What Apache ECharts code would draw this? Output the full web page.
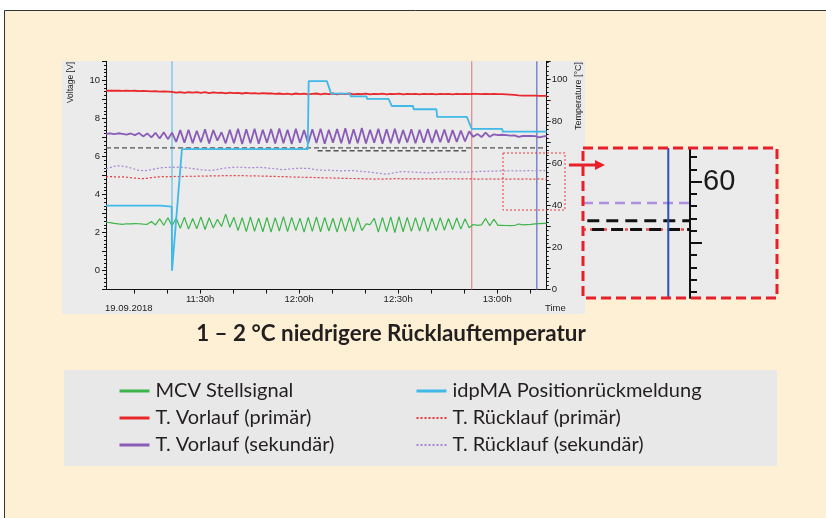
<!DOCTYPE html>
<html><head><meta charset="utf-8">
<script src="https://cdn.jsdelivr.net/npm/echarts@6.0.0/dist/echarts.min.js"></script>
<style>html,body{margin:0;padding:0;background:#fff}#c{width:826px;height:518px}</style>
</head><body><div id="c"></div>
<script>
// ---- data (minutes after 11:00h) ----
const minutes = [
  1.5, 2.75, 4, 5.25, 6.5, 7.75, 9, 10.25, 11.5, 12.75,
  14, 15.25, 16.5, 17.75, 19, 20.25, 21.5, 22.75, 24, 25.25,
  26.5, 27.75, 29, 30.25, 31.5, 32.75, 34, 35.25, 36.5, 37.75,
  39, 40.25, 41.5, 42.75, 44, 45.25, 46.5, 47.75, 49, 50.25,
  51.5, 52.75, 54, 55.25, 56.5, 57.75, 59, 60.25, 61.5, 62.75,
  64, 65.25, 66.5, 67.75, 69, 70.25, 71.5, 72.75, 74, 75.25,
  76.5, 77.75, 79, 80.25, 81.5, 82.75, 84, 85.25, 86.5, 87.75,
  89, 90.25, 91.5, 92.75, 94, 95.25, 96.5, 97.75, 99, 100.25,
  101.5, 102.75, 104, 105.25, 106.5, 107.75, 109, 110.25, 111.5, 112.75,
  114, 115.25, 116.5, 117.75, 119, 120.25, 121.5, 122.75, 124, 125.25,
  126.5, 127.75, 129, 130.25, 131.5, 132.75, 134, 135
];
// MCV Stellsignal [V]
const mcvStellsignal = [
  2.54, 2.52, 2.48, 2.45, 2.43, 2.46, 2.45, 2.47, 2.46, 2.44,
  2.43, 2.58, 2.40, 2.72, 2.38, 2.78, 2.35, 2.76, 2.22, 2.80,
  2.18, 2.74, 2.20, 2.82, 2.16, 2.78, 2.24, 2.70, 2.32, 2.97,
  2.28, 2.80, 2.10, 2.78, 2.05, 2.82, 2.06, 2.76, 2.04, 2.80,
  2.02, 2.78, 2.08, 2.84, 2.05, 2.80, 2.10, 2.76, 2.02, 2.80,
  2.06, 2.82, 2.04, 2.80, 2.08, 2.75, 2.02, 2.78, 2.06, 2.80,
  2.05, 2.78, 2.10, 2.45, 2.42, 2.75, 2.02, 2.80, 2.05, 2.82,
  2.00, 2.84, 2.04, 2.80, 2.06, 2.78, 2.08, 2.80, 2.05, 2.76,
  2.10, 2.78, 2.12, 2.74, 2.15, 2.76, 2.18, 2.72, 2.25, 2.42,
  2.38, 2.40, 2.74, 2.36, 2.70, 2.38, 2.38, 2.37, 2.36, 2.37,
  2.45, 2.40, 2.42, 2.43, 2.45, 2.47, 2.48, 2.48
];
// T. Vorlauf (primär) [°C]
const vorlaufPrimaer = [
  94.6, 94.5, 94.6, 94.5, 94.4, 94.5, 94.4, 94.5, 94.3, 94.4,
  94.3, 94.2, 94.3, 94.1, 94.2, 94.1, 94.0, 93.6, 93.9, 93.5,
  93.8, 93.6, 93.9, 93.5, 93.8, 93.4, 93.7, 93.5, 93.6, 93.3,
  93.6, 93.4, 93.5, 93.2, 93.5, 93.3, 93.4, 93.1, 93.4, 93.2,
  93.3, 93.0, 93.2, 92.9, 93.1, 92.8, 93.2, 92.9, 93.1, 92.8,
  93.0, 93.2, 92.8, 93.1, 92.9, 93.2, 92.8, 93.1, 92.9, 93.2,
  92.8, 93.0, 92.9, 93.1, 92.8, 93.0, 92.9, 93.1, 92.8, 93.0,
  92.9, 93.1, 92.8, 93.0, 92.9, 93.0, 92.8, 93.0, 92.9, 93.0,
  92.8, 93.0, 92.9, 93.0, 92.8, 93.0, 92.9, 93.0, 92.9, 93.0,
  93.0, 92.9, 93.0, 92.9, 93.0, 92.9, 92.9, 92.8, 92.7, 92.5,
  92.3, 92.2, 92.2, 92.2, 92.2, 92.1, 92.1, 92.1
];
// T. Vorlauf (sekundär) [°C]
const vorlaufSekundaer = [
  74.0, 74.2, 73.9, 74.3, 74.0, 73.6, 74.2, 73.4, 74.4, 72.8,
  74.2, 72.3, 74.5, 71.8, 74.8, 71.5, 74.6, 70.2, 75.8, 69.8,
  76.0, 69.6, 75.5, 70.0, 76.2, 69.4, 75.8, 70.8, 74.8, 69.5,
  76.0, 69.6, 76.4, 69.2, 76.2, 69.5, 76.5, 69.3, 76.0, 69.8,
  76.3, 69.4, 76.6, 69.6, 76.0, 69.2, 76.4, 69.8, 75.8, 69.5,
  76.2, 69.7, 76.5, 69.3, 76.0, 69.8, 76.3, 69.5, 76.7, 69.2,
  76.2, 69.6, 76.8, 69.4, 76.0, 69.8, 76.4, 69.3, 76.2, 69.6,
  76.5, 69.5, 75.8, 69.9, 76.2, 69.6, 76.0, 69.8, 76.3, 69.7,
  75.9, 70.0, 76.1, 69.8, 75.8, 70.2, 75.6, 70.4, 75.2, 72.6,
  74.0, 72.5, 74.6, 72.6, 73.8, 73.4, 73.6, 73.4, 73.2, 73.3,
  72.6, 73.0, 73.1, 73.0, 72.9, 72.4, 72.8, 73.0
];
// T. Rücklauf (primär) [°C]
const ruecklaufPrimaer = [
  53.6, 53.7, 53.6, 53.5, 53.6, 53.4, 53.2, 53.0, 52.8, 52.7,
  52.9, 53.2, 53.5, 53.6, 53.7, 53.6, 53.7, 53.8, 53.7, 53.8,
  53.9, 53.8, 53.9, 54.0, 53.9, 54.0, 54.1, 54.0, 54.1, 54.2,
  54.1, 54.2, 54.1, 54.2, 54.1, 54.0, 54.1, 54.0, 53.9, 53.9,
  53.8, 53.8, 53.7, 53.7, 53.6, 53.5, 53.5, 53.4, 53.4, 53.3,
  53.3, 53.2, 53.2, 53.1, 53.1, 53.0, 53.0, 52.9, 52.9, 52.8,
  52.8, 52.7, 52.7, 52.6, 52.6, 52.5, 52.6, 52.5, 52.6, 52.6,
  52.7, 52.7, 52.6, 52.7, 52.6, 52.7, 52.6, 52.6, 52.7, 52.6,
  52.6, 52.7, 52.6, 52.6, 52.7, 52.6, 52.6, 52.7, 52.6, 52.6,
  52.5, 52.6, 52.5, 52.6, 52.5, 52.5, 52.6, 52.5, 52.5, 52.6,
  52.5, 52.5, 52.6, 52.5, 52.5, 52.6, 52.5, 52.5
];
// T. Rücklauf (sekundär) [°C]
const ruecklaufSekundaer = [
  57.4, 58.0, 58.6, 58.8, 58.7, 58.3, 57.8, 57.2, 56.7, 56.5,
  56.6, 57.0, 57.4, 57.8, 58.0, 58.1, 58.2, 58.1, 58.2, 58.0,
  57.8, 57.5, 57.3, 57.0, 56.8, 56.7, 56.8, 57.1, 57.5, 57.8,
  58.0, 58.1, 58.2, 58.1, 58.0, 57.9, 58.0, 58.1, 58.0, 57.8,
  57.6, 57.4, 57.2, 57.0, 57.2, 57.4, 57.6, 57.7, 57.6, 57.6,
  57.3, 57.0, 56.8, 56.7, 56.8, 56.6, 56.5, 56.4, 56.5, 56.6,
  56.5, 56.3, 56.2, 56.0, 55.8, 55.6, 55.3, 55.0, 54.9, 55.2,
  55.6, 55.9, 56.1, 56.0, 55.9, 55.8, 55.7, 55.6, 55.5, 55.6,
  55.7, 55.8, 55.9, 56.0, 56.0, 55.9, 55.8, 55.8, 55.9, 56.0,
  56.1, 56.2, 56.2, 56.3, 56.3, 56.4, 56.4, 56.4, 56.5, 56.4,
  56.5, 56.4, 56.5, 56.5, 56.4, 56.5, 56.5, 56.5
];
// idpMA Positionrückmeldung [V]
const idpmaTime = [1.5, 17.9, 18.0, 21.4, 21.5, 24.5, 62.6, 62.9, 68.4, 69.7, 75.4, 75.6, 80.4, 80.6, 87.1, 88.1, 94.5, 94.7, 101.6, 101.8, 110.8, 112.3, 121.5, 121.7, 135];
const idpmaValue = [3.41, 3.41, 3.36, 3.36, 0.0, 6.38, 6.38, 9.96, 9.96, 9.30, 9.30, 9.16, 9.16, 9.02, 9.02, 8.65, 8.65, 8.48, 8.48, 8.08, 8.08, 7.45, 7.45, 7.30, 7.30];
// reference (dashed) lines [V]
const refATime = [1.5, 134];  const refAValue = [6.45, 6.45];
const refBTime = [65.6, 110.6]; const refBValue = [6.30, 6.30];
// cursors (minutes)
const cyanCursor = 21.5, redCursor = 112.3, blueCursor = 132;
// zoom inset [°C]
const insetPurple = 56.5, insetBlack1 = 53.6, insetBlack2 = 52.2, insetRed = 52.2;
const insetStarts = [0, 4, 8.5, 0];
const insetCursor = 79.7;
// ticks / labels
const xTickValues = [10, 20, 30, 40, 50, 60, 70, 80, 90, 100, 110, 120, 130];
const xLabelValues = [30, 60, 90, 120];
const voltLabels = [0, 2, 4, 6, 8, 10];
const tempLabels = [0, 20, 40, 60, 80, 100];
const insetMinorTicks = [42, 44, 46, 48, 52, 54, 56, 58, 62, 64];
const insetMajorTicks = [50, 60];
const insetLabels = [60];

// ---- chart ----
const zip = (ts, vs) => ts.map((t, i) => [t, vs[i]]);
const AF = "'Liberation Sans', Arial, sans-serif";
const LF = "Lato, 'Open Sans', sans-serif";
const fmtTime = v => { const m = Math.round(v); const h = 11 + Math.floor(m / 60); return h + ':' + String(m % 60).padStart(2, '0') + 'h'; };
const lbl = { fontSize: 9.5, color: '#222', fontFamily: AF };
const blk = { color: '#111', width: 1 };
const noSym = { color: 'rgba(0,0,0,0)', borderWidth: 0, opacity: 0 };

const chart = echarts.init(document.getElementById('c'), null, { renderer: 'canvas' });
const line = (name, xi, yi, data, color, width, type, z) => ({
  name, type: 'line', xAxisIndex: xi, yAxisIndex: yi, data, symbol: 'none', showSymbol: false,
  lineStyle: { color, width, type: type || 'solid' }, itemStyle: { color }, z: z || 2, silent: true
});
const legendText = { fontSize: 20, color: '#231f20', fontFamily: LF, padding: [0, 0, 0, 1] };

chart.setOption({
  backgroundColor: '#ffffff',
  animation: false,
  grid: [
    { left: 106, right: 279.3, top: 61.3, bottom: 228.4 },
    { left: 583, width: 107, top: 148, height: 150 },
    { left: 583, width: 107, top: 148, height: 150 }
  ],
  xAxis: [
    { gridIndex: 0, type: 'value', min: 1.5, max: 135,
      axisLine: { onZero: false, lineStyle: blk }, splitLine: { show: false },
      axisTick: { customValues: xTickValues, length: 4, lineStyle: blk },
      axisLabel: Object.assign({ customValues: xLabelValues, formatter: fmtTime, margin: 5 }, lbl) },
    { gridIndex: 1, type: 'value', min: 0, max: 100, show: false, axisLine: { onZero: false } },
    { gridIndex: 2, type: 'value', min: 0, max: 100, show: false, axisLine: { onZero: false } }
  ],
  yAxis: [
    { gridIndex: 0, type: 'value', position: 'left', min: -1, max: 11, interval: 1,
      axisLine: { show: true, onZero: false, lineStyle: blk }, splitLine: { show: false },
      axisTick: { show: true, length: 4, lineStyle: blk },
      minorTick: { show: true, splitNumber: 5, length: 2, lineStyle: blk },
      axisLabel: Object.assign({ customValues: voltLabels, margin: 6 }, lbl) },
    { gridIndex: 0, type: 'value', position: 'right', min: 0, max: 108.5, interval: 10,
      axisLine: { show: true, onZero: false, lineStyle: blk }, splitLine: { show: false },
      axisTick: { show: true, length: 4, lineStyle: blk },
      minorTick: { show: true, splitNumber: 5, length: 2, lineStyle: blk },
      axisLabel: Object.assign({ customValues: tempLabels, margin: 5 }, lbl) },
    { gridIndex: 1, type: 'value', position: 'right', min: 41, max: 65.5,
      axisLine: { show: true, onZero: false, lineStyle: { color: '#111', width: 2 } }, splitLine: { show: false },
      axisTick: { show: true, customValues: insetMinorTicks, length: 7, lineStyle: { color: '#111', width: 2 } },
      axisLabel: { show: false } },
    { gridIndex: 2, type: 'value', position: 'right', min: 41, max: 65.5,
      axisLine: { show: false, onZero: false }, splitLine: { show: false },
      axisTick: { show: true, customValues: insetMajorTicks, length: 12, lineStyle: { color: '#111', width: 2 } },
      axisLabel: { customValues: insetLabels, fontSize: 29, color: '#1a1a1a', fontFamily: AF, margin: 13 } }
  ],
  legend: [
    { left: 118, top: 381, orient: 'vertical', itemGap: 7, itemWidth: 30, itemHeight: 14, padding: 0,
      textStyle: legendText,
      data: [
        { name: 'MCV Stellsignal', lineStyle: { width: 3 }, itemStyle: noSym },
        { name: 'T. Vorlauf (primär)', lineStyle: { width: 3 }, itemStyle: noSym },
        { name: 'T. Vorlauf (sekundär)', lineStyle: { width: 3 }, itemStyle: noSym }
      ] },
    { left: 415, top: 381, orient: 'vertical', itemGap: 7, itemWidth: 30, itemHeight: 14, padding: 0,
      textStyle: legendText,
      data: [
        { name: 'idpMA Positionrückmeldung', lineStyle: { width: 3 }, itemStyle: noSym },
        { name: 'T. Rücklauf (primär)', lineStyle: { width: 2 }, itemStyle: noSym },
        { name: 'T. Rücklauf (sekundär)', lineStyle: { width: 2 }, itemStyle: noSym }
      ] }
  ],
  graphic: [
    { type: 'rect', z: -20, shape: { x: 4.5, y: 10.5, width: 840, height: 530 }, style: { fill: '#fdf0d4', stroke: '#333', lineWidth: 1 } },
    { type: 'rect', z: -19, shape: { x: 62, y: 61, width: 523, height: 253 }, style: { fill: '#ebebeb' } },
    { type: 'rect', z: -19, shape: { x: 64, y: 370, width: 713, height: 96 }, style: { fill: '#e8e8e8' } },
    { type: 'rect', z: -19, shape: { x: 583, y: 148, width: 194, height: 150 }, style: { fill: '#ebebeb' } },
    { type: 'rect', z: 60, shape: { x: 583, y: 148, width: 194, height: 150 }, style: { fill: 'none', stroke: '#e8202a', lineWidth: 3, lineDash: [10, 5] } },
    { type: 'rect', z: 60, shape: { x: 503, y: 153, width: 62, height: 57 }, style: { fill: 'none', stroke: '#e8393d', lineWidth: 1, lineDash: [2, 2] } },
    { type: 'line', z: 60, shape: { x1: 569, y1: 165, x2: 597, y2: 165 }, style: { stroke: '#e8202a', lineWidth: 3 } },
    { type: 'polygon', z: 60, shape: { points: [[595, 160], [605, 165], [595, 170]] }, style: { fill: '#e8202a' } },
    { type: 'text', z: 60, x: 71, y: 62, rotation: Math.PI / 2, style: { text: 'Voltage [V]', x: 0, y: 0, align: 'right', verticalAlign: 'middle', fontSize: 8.5, fontFamily: AF, fill: '#222' } },
    { type: 'text', z: 60, x: 579, y: 62, rotation: Math.PI / 2, style: { text: 'Temperature [°C]', x: 0, y: 0, align: 'right', verticalAlign: 'middle', fontSize: 9, fontFamily: AF, fill: '#222' } },
    { type: 'text', z: 60, x: 105, y: 308, style: { text: '19.09.2018', x: 0, y: 0, align: 'left', verticalAlign: 'middle', fontSize: 9.5, fontFamily: AF, fill: '#222' } },
    { type: 'text', z: 60, x: 545, y: 308, style: { text: 'Time', x: 0, y: 0, align: 'left', verticalAlign: 'middle', fontSize: 9.5, fontFamily: AF, fill: '#222' } },
    { type: 'text', z: 60, x: 391, y: 334, style: { text: '1 – 2 °C niedrigere Rücklauftemperatur', x: 0, y: 0, align: 'center', verticalAlign: 'middle', fontSize: 22.4, fontWeight: 'bold', fontFamily: LF, fill: '#231f20' } }
  ],
  series: [
    line('cyanCursor', 0, 0, [[cyanCursor, 0], [cyanCursor, 11]], '#45b9e6', 1, 'solid', 1),
    line('redCursor', 0, 0, [[redCursor, -1], [redCursor, 11]], '#e2746e', 1, 'solid', 1),
    line('blueCursor', 0, 0, [[blueCursor, -1], [blueCursor, 11]], '#7d86c6', 1.5, 'solid', 1),
    line('refA', 0, 0, zip(refATime, refAValue), '#555555', 1.4, [5, 3], 2),
    line('refB', 0, 0, zip(refBTime, refBValue), '#555555', 1.4, [5, 3], 2),
    line('T. Rücklauf (sekundär)', 0, 1, zip(minutes, ruecklaufSekundaer), '#a586d0', 1.2, [2, 2], 3),
    line('T. Rücklauf (primär)', 0, 1, zip(minutes, ruecklaufPrimaer), '#e8393d', 1.2, [2, 2], 3),
    line('MCV Stellsignal', 0, 0, zip(minutes, mcvStellsignal), '#3db54a', 1.2, 'solid', 4),
    line('T. Vorlauf (sekundär)', 0, 1, zip(minutes, vorlaufSekundaer), '#8a5cb6', 1.8, 'solid', 4),
    line('T. Vorlauf (primär)', 0, 1, zip(minutes, vorlaufPrimaer), '#e8282b', 1.8, 'solid', 4),
    line('idpMA Positionrückmeldung', 0, 0, zip(idpmaTime, idpmaValue), '#40b8e8', 1.8, 'solid', 5),
    // inset
    line('insetRed', 1, 2, [[insetStarts[3], insetRed], [100, insetRed]], '#f04848', 2.5, [3, 4], 3),
    line('insetPurple', 1, 2, [[insetStarts[0], insetPurple], [100, insetPurple]], '#b08fe0', 2.5, [10, 6], 3),
    line('insetBlack1', 1, 2, [[insetStarts[1], insetBlack1], [100, insetBlack1]], '#111111', 3, [12, 7], 4),
    line('insetBlack2', 1, 2, [[insetStarts[2], insetBlack2], [100, insetBlack2]], '#111111', 3, [12, 7], 4),
    line('insetCursor', 1, 2, [[insetCursor, 41], [insetCursor, 65.5]], '#2d4fbf', 2, 'solid', 5)
  ]
});
</script></body></html>
